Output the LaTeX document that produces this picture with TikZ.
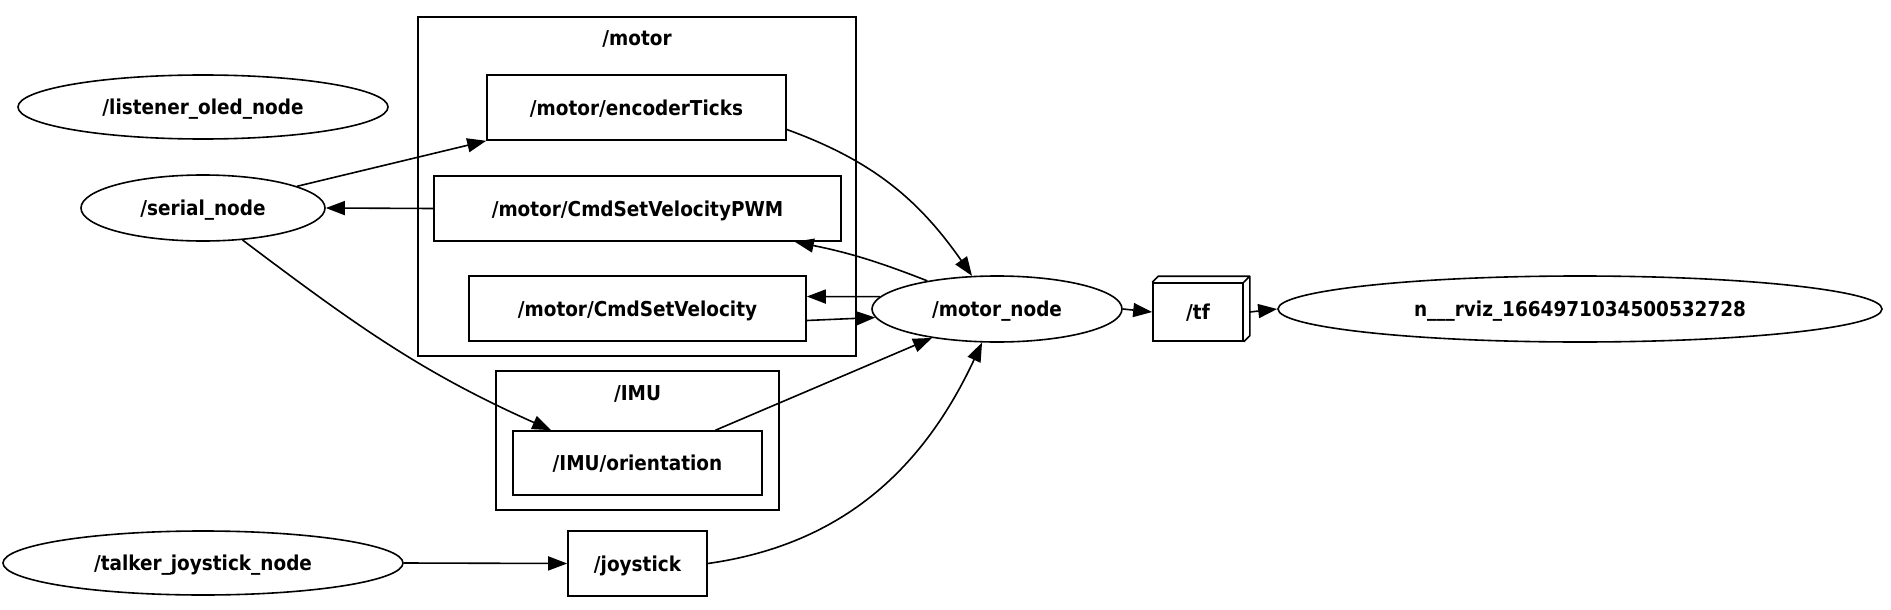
\documentclass[tikz,border=0pt]{standalone}
\usepackage{fontspec}
\setmainfont{DejaVu Sans Condensed}
\usetikzlibrary{
  calc,
  arrows.meta,
  shapes.geometric
}

\begin{document}
\begin{tikzpicture}[
    x=1pt, y=-1pt,
    font=\fontsize{20.5}{24}\selectfont\bfseries,
    every node/.style={inner sep=0pt, text height=15pt, text depth=0pt},
    ros/.style={ellipse, draw, line width=1.6pt},
    topic/.style={rectangle, draw, line width=1.6pt, minimum height=65pt},
    cluster/.style={rectangle, draw, line width=1.6pt},
    arr/.style={-{Triangle[length=19pt, width=14pt]}, line width=1.6pt}
  ]
    \useasboundingbox (0,0) rectangle (1891,610);

    % namespaces
    \node[cluster, minimum width=438pt, minimum height=339pt] (motor) at (637,186.5) {};
    \node (motorlbl) at (637,38) {/motor};
    \node[cluster, minimum width=283pt, minimum height=139pt] (imu) at (637.5,440.5) {};
    \node (imulbl) at (637.5,393) {/IMU};

    % nodes
    \node[ros, minimum width=370pt, minimum height=64pt] (listener) at (203,107) {/listener\_oled\_node};
    \node[ros, minimum width=244pt, minimum height=66pt] (serial) at (203,208) {/serial\_node};
    \node[ros, minimum width=400pt, minimum height=64pt] (talker) at (203,563) {/talker\_joystick\_node};
    \node[ros, minimum width=250pt, minimum height=66pt] (mnode) at (997,309) {/motor\_node};
    \node[ros, minimum width=604pt, minimum height=66pt] (rviz) at (1580,309) {n\_\_\_rviz\_1664971034500532728};

    % topics
    \node[topic, minimum width=299pt] (enc) at (636.5,107.5) {/motor/encoderTicks};
    \node[topic, minimum width=407pt] (pwm) at (637.5,208.5) {/motor/CmdSetVelocityPWM};
    \node[topic, minimum width=337pt] (csv) at (637.5,308.5) {/motor/CmdSetVelocity};
    \node[topic, minimum width=249pt, minimum height=64pt] (imuo) at (637.5,463) {/IMU/orientation};
    \node[topic, minimum width=139pt] (joy) at (637.5,563.5) {/joystick};
    \node[topic, minimum width=90pt, minimum height=58pt] (tf) at (1198,312) {/tf};
    \draw[line width=1.6pt, line join=round]
      (tf.north west) -- ++(6,-6) -| ([shift={(6pt,6pt)}]tf.south east) -- (tf.south east)
      (tf.north east) -- ++(6,-6);

    % connections
    \draw[arr] (serial.13) -- (enc.south west);
    \draw[arr] (pwm.west) -- (serial.east);
    \draw[arr] ([yshift=-22pt]enc.east) to[out=-20, in=125] (mnode.127);
    \draw[arr] (mnode.158) to[bend right=5] ([xshift=-47pt]pwm.south east);
    \draw[arr] (mnode.174) -- ([yshift=12pt]csv.east);
    \draw[arr] ([yshift=-12pt]csv.east) -- (mnode.184);
    \draw[arr] (serial.-39) to[out=-37, in=156] ([xshift=39pt]imuo.north west);
    \draw[arr] ([xshift=78pt]imuo.north) -- (mnode.204);
    \draw[arr] (joy.east) to[out=8, in=-115] (mnode.246);
    \draw[arr] (talker.east) -- (joy.west);
    \draw[arr] (mnode.east) -- (tf.west);
    \draw[arr] ([xshift=6pt]tf.east) -- (rviz.west);
  \end{tikzpicture}
\end{document}
